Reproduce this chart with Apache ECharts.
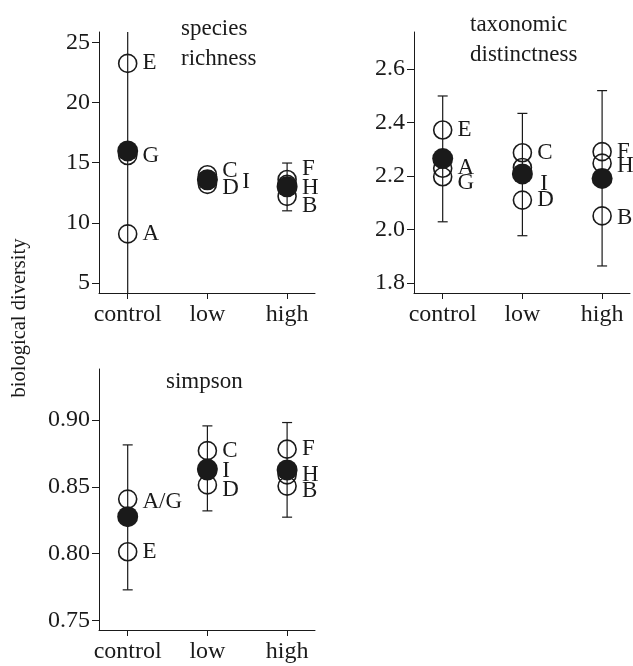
<!DOCTYPE html>
<html>
<head>
<meta charset="utf-8">
<script src="https://cdn.jsdelivr.net/npm/echarts@6/dist/echarts.min.js"></script>
<style>
  html, body { margin: 0; padding: 0; background: #fff; }
  #main { width: 633px; height: 666px; }
</style>
</head>
<body>
<div id="main"></div>
<script>
// 处理组
var groups = ['control', 'low', 'high'];

// species richness
var richLetters = [['E', 'G', 'A'], ['C', 'I', 'D'], ['F', 'H', 'B']];
var richValues = [[23.25, 15.6, 9.08], [14.0, 13.55, 13.2], [13.6, 13.2, 12.2]];
var richMean = [15.98, 13.58, 13.0];
var richLow = [3.0, 13.1, 11.0];
var richHigh = [27.0, 14.1, 14.97];
var richTicks = [5, 10, 15, 20, 25];

// taxonomic distinctness
var taxLetters = [['E', 'A', 'G'], ['C', 'I', 'D'], ['F', 'H', 'B']];
var taxValues = [[2.372, 2.229, 2.197], [2.287, 2.232, 2.11], [2.291, 2.248, 2.051]];
var taxMean = [2.265, 2.208, 2.191];
var taxLow = [2.029, 1.977, 1.864];
var taxHigh = [2.499, 2.434, 2.519];
var taxTicks = [1.8, 2.0, 2.2, 2.4, 2.6];

// simpson
var simpLetters = [['A/G', 'E'], ['C', 'I', 'D'], ['F', 'H', 'B']];
var simpValues = [[0.8408, 0.8015], [0.877, 0.862, 0.8514], [0.8781, 0.8589, 0.8505]];
var simpMean = [0.8277, 0.8632, 0.8626];
var simpLow = [0.773, 0.832, 0.8273];
var simpHigh = [0.8813, 0.8955, 0.898];
var simpTicks = [0.75, 0.80, 0.85, 0.90];

// 标签微调 (px)
var nudge = {
    '0C': [0, -4], '0I': [20, 2], '0D': [0, 4],
    '0F': [0, -11], '0H': [0, 4], '0B': [0, 10],
    '1G': [0, 6], '1I': [3, 17], '1H': [0, 3], '1B': [0, 2],
    '2A/G': [0, 3], '2D': [0, 5], '2B': [0, 5]
};

var FONT = "'Liberation Serif', 'DejaVu Serif', serif";
var INK = '#1a1a1a';

var chart = echarts.init(document.getElementById('main'));

var grids = [
    { left: 99, top: 32, width: 216, height: 261 },
    { left: 414, top: 32, width: 216, height: 261 },
    { left: 99, top: 369, width: 216, height: 261 }
];
var yRanges = [[4.17, 25.86], [1.763, 2.738], [0.743, 0.938]];
var yTicks = [richTicks, taxTicks, simpTicks];
var yDigits = [0, 1, 2];

function xAxis(i) {
    return {
        type: 'value', gridIndex: i, min: -0.36, max: 2.35,
        splitLine: { show: false },
        axisLine: { onZero: false, lineStyle: { color: INK, width: 1 } },
        axisTick: { customValues: [0, 1, 2], length: 6, lineStyle: { color: INK } },
        axisLabel: {
            customValues: [0, 1, 2], margin: 10,
            fontFamily: FONT, fontSize: 24, color: INK,
            formatter: function (v) { return groups[Math.round(v)]; }
        }
    };
}

function yAxis(i) {
    return {
        type: 'value', gridIndex: i, min: yRanges[i][0], max: yRanges[i][1],
        splitLine: { show: false },
        axisLine: { show: true, onZero: false, lineStyle: { color: INK, width: 1 } },
        axisTick: { show: true, customValues: yTicks[i], length: 7, lineStyle: { color: INK } },
        axisLabel: {
            customValues: yTicks[i], margin: 9,
            fontFamily: FONT, fontSize: 24, color: INK,
            formatter: function (v) { return v.toFixed(yDigits[i]); }
        }
    };
}

// 误差线
function errorSeries(i, lows, highs) {
    return {
        type: 'custom', xAxisIndex: i, yAxisIndex: i, clip: true, z: 1,
        data: groups.map(function (g, k) { return [k, lows[k], highs[k]]; }),
        renderItem: function (params, api) {
            var lo = api.coord([api.value(0), api.value(1)]);
            var hi = api.coord([api.value(0), api.value(2)]);
            var style = { stroke: INK, lineWidth: 1.2 };
            return {
                type: 'group',
                children: [
                    { type: 'line', shape: { x1: lo[0], y1: lo[1], x2: hi[0], y2: hi[1] }, style: style },
                    { type: 'line', shape: { x1: lo[0] - 5, y1: lo[1], x2: lo[0] + 5, y2: lo[1] }, style: style },
                    { type: 'line', shape: { x1: hi[0] - 5, y1: hi[1], x2: hi[0] + 5, y2: hi[1] }, style: style }
                ]
            };
        }
    };
}

// 空心点 + 字母
function openSeries(i, letters, values) {
    var data = [];
    letters.forEach(function (row, k) {
        row.forEach(function (name, j) {
            var off = nudge[i + name] || [0, 0];
            data.push({ name: name, value: [k, values[k][j]], label: { offset: off } });
        });
    });
    return {
        type: 'scatter', xAxisIndex: i, yAxisIndex: i, z: 2,
        symbol: 'circle', symbolSize: 18,
        itemStyle: { color: 'rgba(0,0,0,0)', borderColor: INK, borderWidth: 1.6, opacity: 1 },
        label: {
            show: true, position: 'right', distance: 5,
            fontFamily: FONT, fontSize: 23, color: INK,
            formatter: function (p) { return p.name; }
        },
        emphasis: { disabled: true },
        data: data
    };
}

// 实心均值
function meanSeries(i, means) {
    return {
        type: 'scatter', xAxisIndex: i, yAxisIndex: i, z: 3,
        symbol: 'circle', symbolSize: 21,
        itemStyle: { color: INK, opacity: 1 },
        emphasis: { disabled: true },
        data: groups.map(function (g, k) { return [k, means[k]]; })
    };
}

var titleStyle = { fontFamily: FONT, fontSize: 23, fontWeight: 'normal', color: INK, lineHeight: 30 };

var option = {
    backgroundColor: '#fff',
    animation: false,
    title: [
        { text: 'species\nrichness', left: 176, top: 9, textStyle: titleStyle },
        { text: 'taxonomic\ndistinctness', left: 465, top: 5, textStyle: titleStyle },
        { text: 'simpson', left: 161, top: 362, textStyle: titleStyle }
    ],
    graphic: [{
        type: 'text', x: 20, y: 318, rotation: Math.PI / 2,
        style: {
            text: 'biological diversity', fontFamily: FONT, fontSize: 20.5, fill: INK,
            align: 'center', verticalAlign: 'middle'
        }
    }],
    grid: grids,
    xAxis: [xAxis(0), xAxis(1), xAxis(2)],
    yAxis: [yAxis(0), yAxis(1), yAxis(2)],
    series: [
        errorSeries(0, richLow, richHigh),
        openSeries(0, richLetters, richValues),
        meanSeries(0, richMean),
        errorSeries(1, taxLow, taxHigh),
        openSeries(1, taxLetters, taxValues),
        meanSeries(1, taxMean),
        errorSeries(2, simpLow, simpHigh),
        openSeries(2, simpLetters, simpValues),
        meanSeries(2, simpMean)
    ]
};

chart.setOption(option);
</script>
</body>
</html>
